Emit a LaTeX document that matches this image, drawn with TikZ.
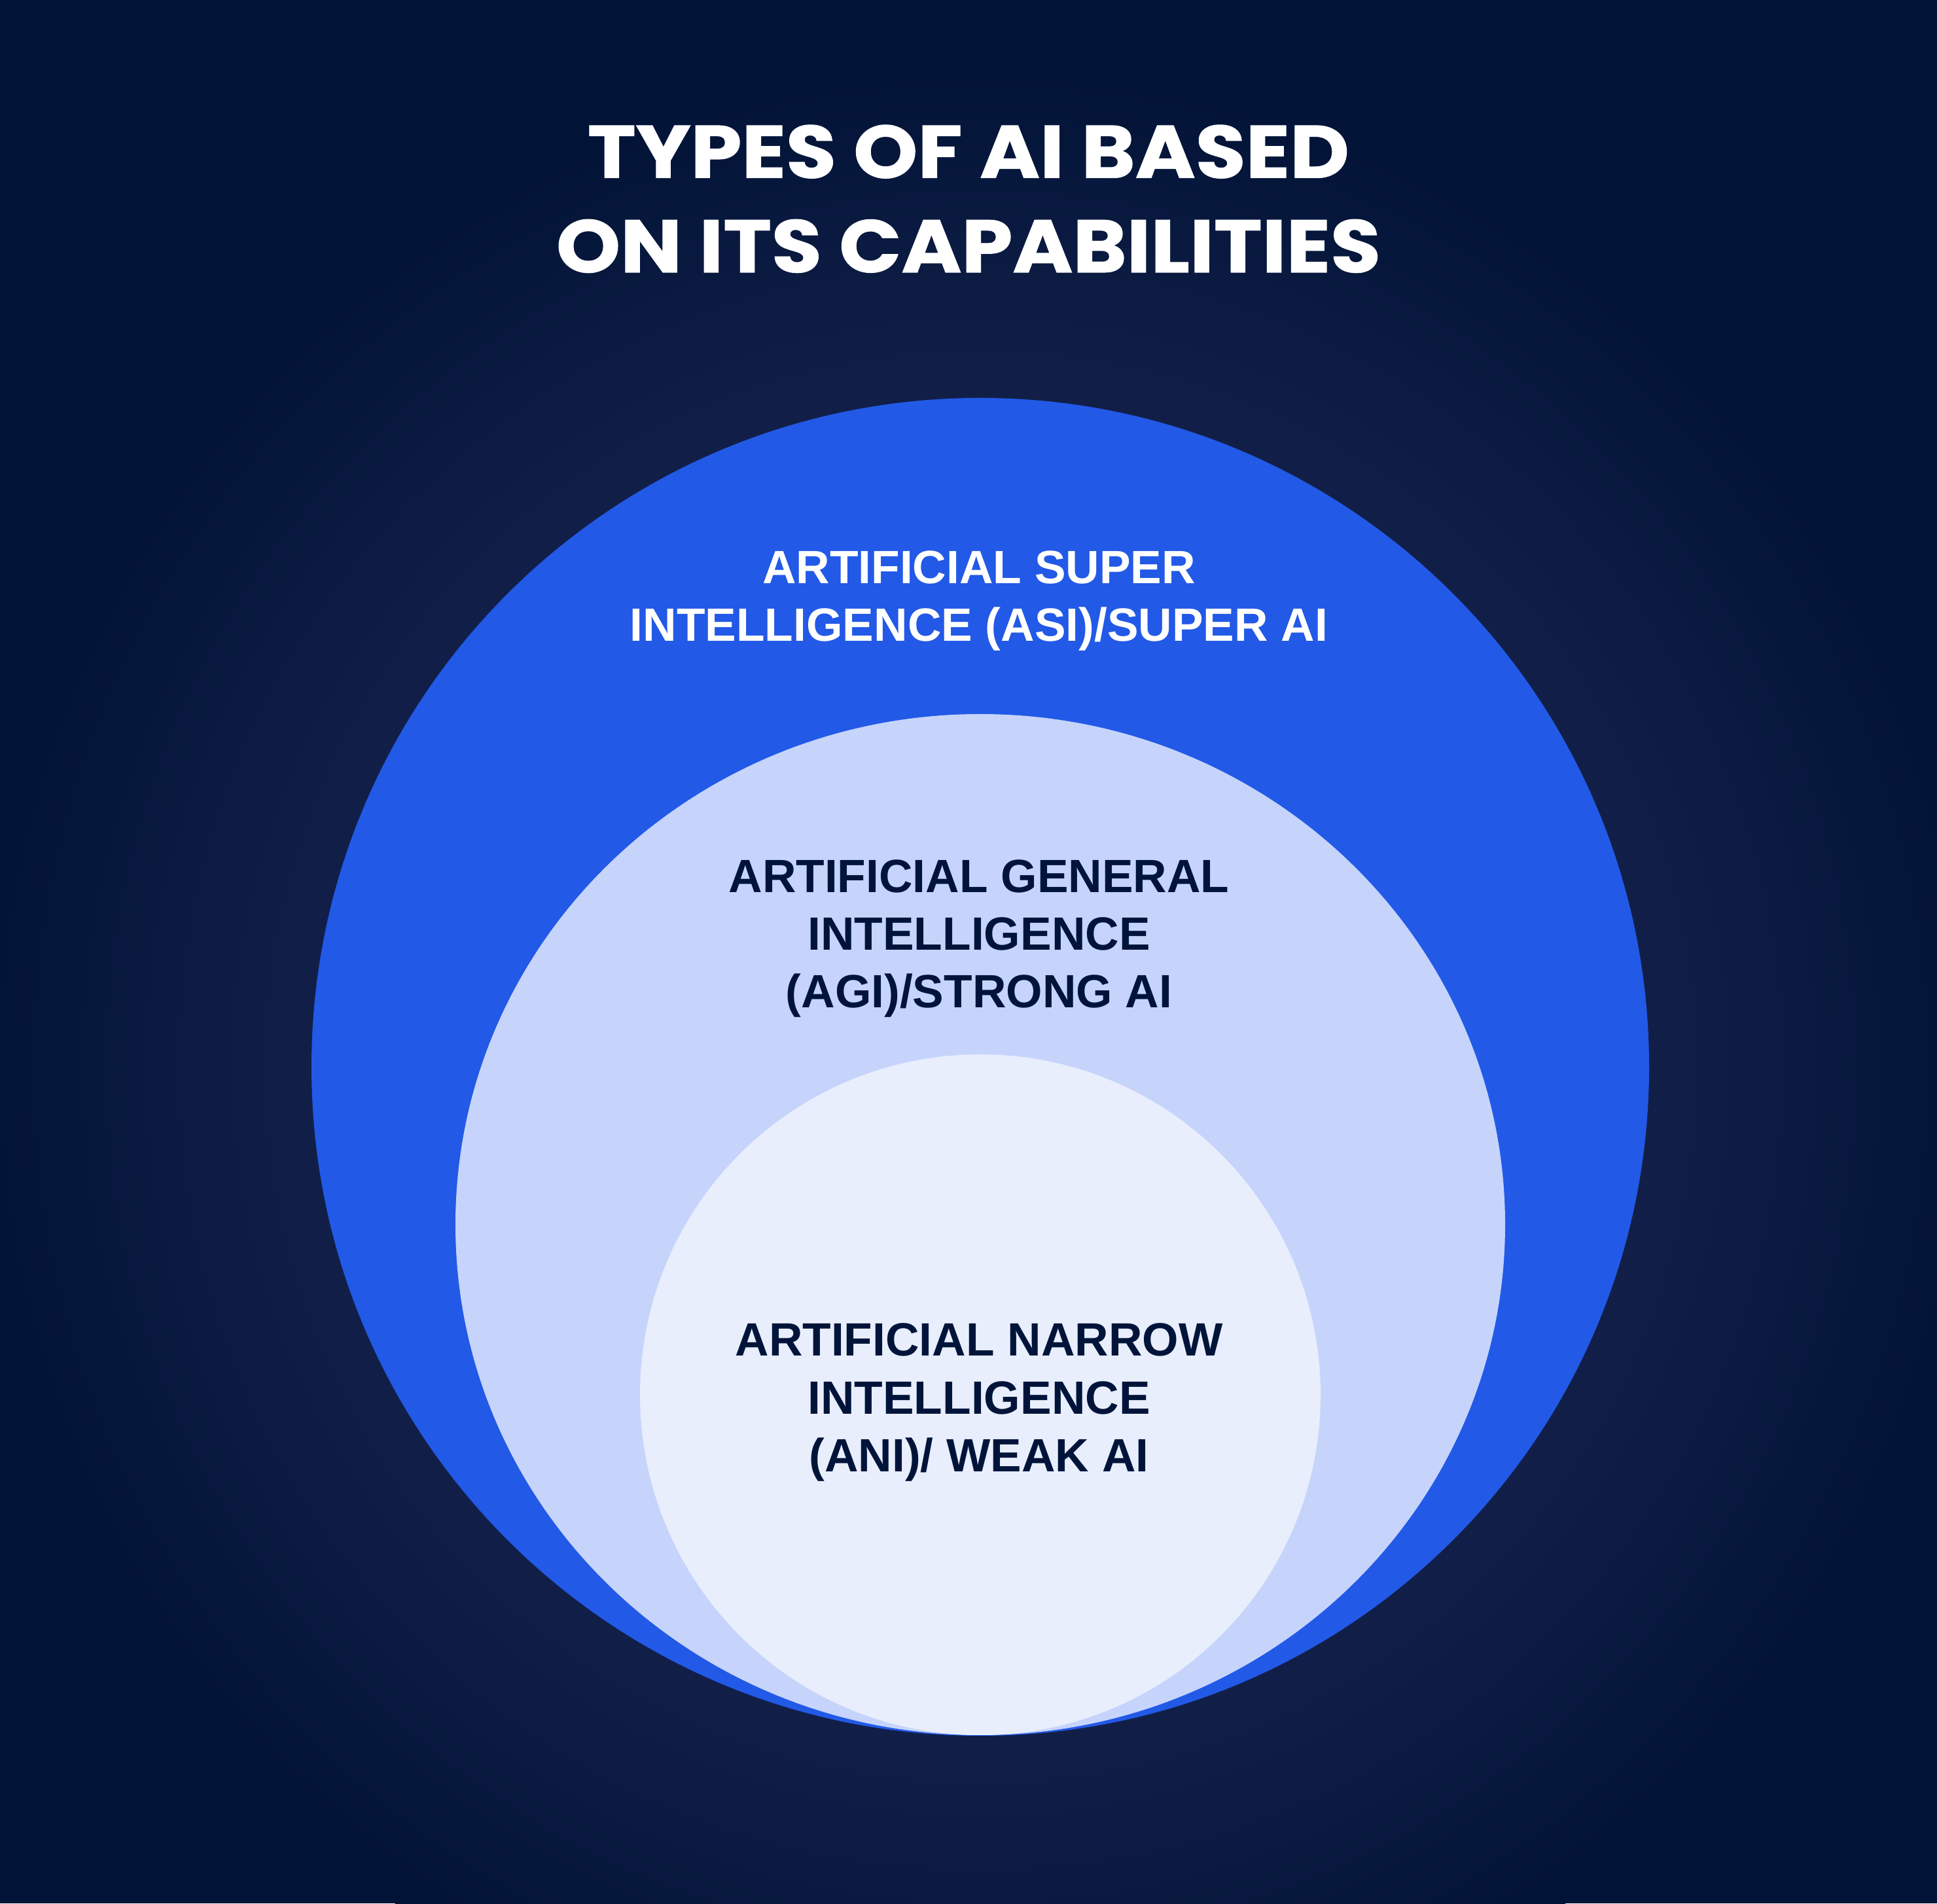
\documentclass[tikz,border=0pt]{standalone}
\usepackage{fontspec}
\setmainfont{Liberation Sans}
\newfontfamily\titlefont{Poppins}[FakeStretch=1.1,BoldFeatures={FakeBold=1}]
\definecolor{bgin}{HTML}{111F48}
\definecolor{bgout}{HTML}{011336}
\definecolor{asiblue}{HTML}{2259E7}
\definecolor{agifill}{HTML}{C6D4FC}
\definecolor{anifill}{HTML}{E8EEFC}
\definecolor{navytext}{HTML}{00143A}
\pgfdeclareradialshading{bgglow}{\pgfpoint{0bp}{0bp}}{color(0bp)=(bgin); color(16.5bp)=(bgin); color(25bp)=(bgout); color(50bp)=(bgout)}
\begin{document}
\begin{tikzpicture}[
  ringtext/.style={align=center,inner sep=0pt,anchor=base,
    font=\fontsize{20.3}{25.1}\selectfont\bfseries},
  titletext/.style={align=center,inner sep=0pt,anchor=base,text=white,
    font=\titlefont\fontsize{32.3}{41.05}\selectfont\bfseries}]
  \fill[bgout] (0,0) rectangle (29.6,29.08);
  \begin{scope}
    \clip (0,0) rectangle (29.6,29.08);
    \shade[shading=bgglow] (14.98,12.78) circle (15.6);
  \end{scope}
  \useasboundingbox (0,0) rectangle (29.6,29.08);
  % the three capability rings
  \fill[asiblue] (14.98,12.78) circle (10.22);
  \fill[agifill] (14.98,10.37) ellipse [x radius=8.02,y radius=7.80];
  \fill[anifill] (14.98,7.77) circle (5.20);
  % anchors sit on the last line
  \node[titletext] (title) at (14.80,24.92) {TYPES OF AI BASED\\ON ITS CAPABILITIES};
  \node[ringtext,text=white] (asi) at (14.96,19.28) {ARTIFICIAL SUPER\\INTELLIGENCE (ASI)/SUPER AI};
  \node[ringtext,text=navytext] (agi) at (14.96,13.68) {ARTIFICIAL GENERAL\\INTELLIGENCE\\(AGI)/STRONG AI};
  \node[ringtext,text=navytext] (ani) at (14.96,6.597) {ARTIFICIAL NARROW\\INTELLIGENCE\\(ANI)/ WEAK AI};
\end{tikzpicture}
\end{document}
